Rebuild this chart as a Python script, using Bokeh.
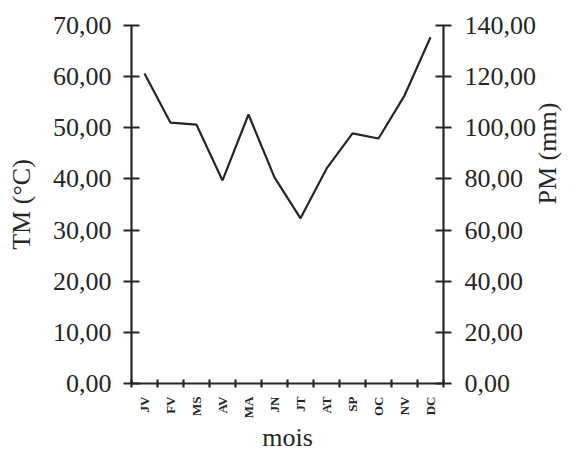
import math
from bokeh.plotting import figure
from bokeh.models import Range1d, LinearAxis, FixedTicker, ColumnDataSource
from bokeh.embed import file_html
from bokeh.resources import INLINE

# Monthly precipitation (mm)
months = ["JV", "FV", "MS", "AV", "MA", "JN", "JT", "AT", "SP", "OC", "NV", "DC"]
pm_values = [121.2, 102.0, 101.2, 79.4, 105.2, 80.6, 64.6, 84.0, 97.8, 95.8, 112.6, 135.4]
tm_ticks = [0, 10, 20, 30, 40, 50, 60, 70]
pm_ticks = [0, 20, 40, 60, 80, 100, 120, 140]

FONT = "Liberation Serif"
INK = "#262626"

def fr_label(v):
    return f"{v:.2f}".replace(".", ",")

x_pos = [i + 0.5 for i in range(len(months))]
src = ColumnDataSource(data=dict(x=x_pos, pm=pm_values))

p = figure(width=579, height=455, output_backend="svg", toolbar_location=None,
           x_range=Range1d(0, len(months)), y_range=Range1d(0, 70),
           min_border_left=131, min_border_right=136, min_border_top=25,
           min_border_bottom=72, x_axis_location=None, y_axis_location=None)
p.extra_y_ranges = {"pm": Range1d(0, 140)}
p.grid.visible = False
p.outline_line_color = None
p.background_fill_color = "white"
p.border_fill_color = "white"

p.line("x", "pm", source=src, y_range_name="pm", line_color=INK, line_width=2.2)

def style_axis_title(ax):
    ax.axis_label_text_font = FONT
    ax.axis_label_text_font_size = "26px"
    ax.axis_label_text_font_style = "normal"
    ax.axis_label_text_color = INK

def style_y(ax, ticks):
    ax.ticker = FixedTicker(ticks=ticks, minor_ticks=[])
    ax.major_label_overrides = {t: fr_label(t) for t in ticks}
    ax.axis_line_color = INK
    ax.axis_line_width = 2.2
    ax.major_tick_line_color = INK
    ax.major_tick_line_width = 2.2
    ax.major_tick_in = 8
    ax.major_tick_out = 8
    ax.minor_tick_line_color = None
    ax.major_label_text_font = FONT
    ax.major_label_text_font_size = "26px"
    ax.major_label_text_color = INK
    style_axis_title(ax)

left = LinearAxis(axis_label="TM (°C)")
style_y(left, tm_ticks)
left.major_label_standoff = 12
left.axis_label_standoff = 14
p.add_layout(left, "left")

right = LinearAxis(y_range_name="pm", axis_label="PM (mm)")
style_y(right, pm_ticks)
right.major_label_standoff = 13
right.axis_label_standoff = 8
right.axis_label_orientation = math.pi / 2
p.add_layout(right, "right")

bottom = LinearAxis(axis_label="mois")
bottom.ticker = FixedTicker(ticks=x_pos, minor_ticks=list(range(len(months) + 1)))
bottom.major_label_overrides = {x: m for x, m in zip(x_pos, months)}
bottom.major_label_orientation = math.pi / 2
bottom.major_label_text_font = FONT
bottom.major_label_text_font_size = "13px"
bottom.major_label_text_font_style = "bold"
bottom.major_label_text_color = INK
bottom.major_label_standoff = 7
bottom.major_tick_line_color = None
bottom.minor_tick_line_color = INK
bottom.minor_tick_line_width = 2.2
bottom.minor_tick_in = 4
bottom.minor_tick_out = 4
bottom.axis_line_color = INK
bottom.axis_line_width = 2.2
style_axis_title(bottom)
bottom.axis_label_text_line_height = 0.6
bottom.axis_label_standoff = 2
p.add_layout(bottom, "below")

open("out.html", "w").write(file_html(p, INLINE))
